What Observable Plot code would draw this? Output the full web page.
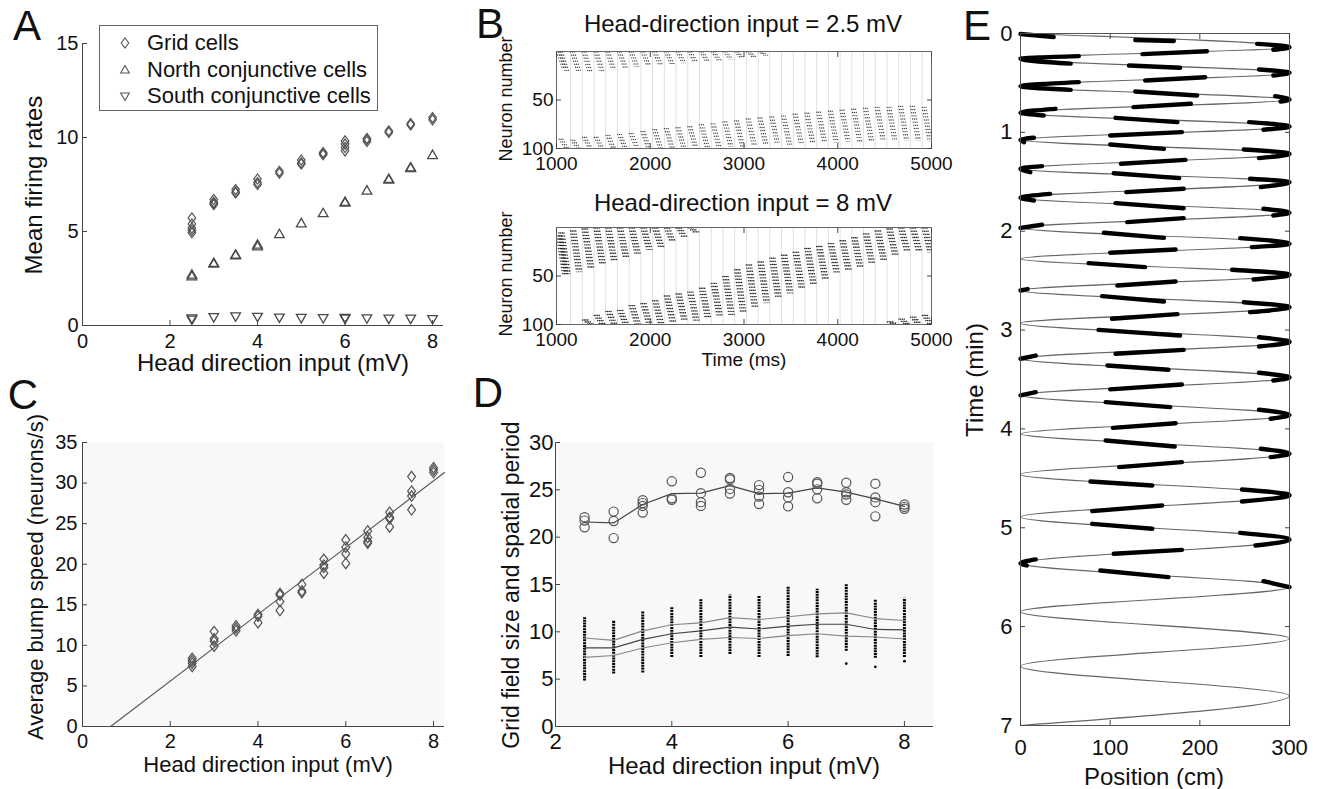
<!DOCTYPE html>
<html><head><meta charset="utf-8">
<script src="https://cdn.jsdelivr.net/npm/d3@7"></script>
<script src="https://cdn.jsdelivr.net/npm/@observablehq/plot@0.6"></script>
<style>
body{margin:0;background:#fff;}
#fig{position:relative;width:1317px;height:789px;overflow:hidden;background:#fff;font-family:"Liberation Sans",Arial,Helvetica,sans-serif;color:#111;}
.lg{position:absolute;left:99px;top:25px;width:279px;height:86px;border:1px solid #666;box-sizing:border-box;background:#fff;}
</style></head>
<body><div id="fig"></div>
<script>
// ---------------- DATA ----------------
const inputX = [2.5, 3, 3.5, 4, 4.5, 5, 5.5, 6, 6.5, 7, 7.5, 8];
// Panel A
const gridCellRates = [[4.93,5.05,5.18,5.40,5.72],[6.43,6.50,6.55,6.70],[7.05,7.10,7.23],[7.50,7.60,7.79],[8.10,8.20],[8.59,8.65,8.80],[9.08,9.15,9.20],[9.29,9.47,9.65,9.82],[9.79,9.90,9.95],[10.27,10.35],[10.67,10.74],[10.94,11.06]];
const northRates = [[2.58,2.67],[3.25,3.29],[3.70,3.73],[4.17,4.26],[4.82],[5.40],[5.94],[6.50,6.54],[7.14],[7.72,7.76],[8.33,8.37],[9.03]];
const southRates = [[0.35,0.42],[0.48],[0.52],[0.50],[0.46],[0.44],[0.43],[0.40,0.44],[0.42],[0.40],[0.40],[0.38]];
const ticksA_x = [0, 2, 4, 6, 8];
const ticksA_y = [0, 5, 10, 15];
const legendA = ["Grid cells", "North conjunctive cells", "South conjunctive cells"];
// Panel B
const timeTicksB = [1000, 2000, 3000, 4000, 5000];
const neuronTicksB = [50, 100];
const thetaLines = [1150,1275,1400,1525,1650,1775,1900,2025,2150,2275,2400,2525,2650,2775,2900,3025,3150,3275,3400,3525,3650,3775,3900,4025,4150,4275,4400,4525,4650,4775,4900];
// [cycle start (ms), top neuron, bottom neuron]
const raster25Upper = [[1000,0,18],[1025,0,20],[1150,0,20],[1275,0,22],[1400,0,20],[1525,0,19],[1650,0,17],[1775,0,16],[1900,0,15],[2025,0,14],[2150,0,13],[2275,0,12],[2400,0,11],[2525,0,10],[2650,0,9],[2775,0,8],[2900,0,7],[3025,0,6],[3150,0,4]];
const raster25Lower = [[1025,90,100],[1150,91,100],[1275,88,100],[1400,88,100],[1525,86,100],[1650,85,100],[1775,84,100],[1900,82,100],[2025,80,100],[2150,79,100],[2275,78,100],[2400,77,99],[2525,75,99],[2650,74,99],[2775,72,98],[2900,71,98],[3025,69,97],[3150,68,97],[3275,67,96],[3400,66,96],[3525,64,95],[3650,63,95],[3775,62,94],[3900,61,94],[4025,60,93],[4150,59,93],[4275,58,92],[4400,57,92],[4525,57,92],[4650,56,92],[4775,56,92],[4900,57,93]];
const raster8Upper = [[1000,8,48],[1025,5,48],[1150,3,46],[1275,1,42],[1400,0,38],[1525,0,35],[1650,0,31],[1775,0,28],[1900,0,23],[2025,0,20],[2150,0,15],[2275,0,10],[2400,0,5]];
const raster8Main = [[1275,95,100],[1400,90,100],[1525,86,100],[1650,85,100],[1775,80,100],[1900,78,100],[2025,75,100],[2150,70,98],[2275,68,97],[2400,66,96],[2525,62,94],[2650,57,92],[2775,50,90],[2900,43,88],[3025,38,83],[3150,35,78],[3275,31,73],[3400,28,68],[3525,25,63],[3650,21,59],[3775,19,53],[3900,16,48],[4025,13,45],[4150,10,42],[4275,6,38],[4400,3,34],[4525,1,30],[4650,0,25],[4775,0,24],[4900,0,26]];
const raster8Wrap = [[4525,97,100],[4650,94,100],[4775,92,100],[4900,90,100]];
// Panel C
const bumpSpeeds = [[7.4,7.8,8.1,8.4],[9.9,10.5,10.8,11.7],[11.8,12.1,12.4],[12.8,13.6,13.8],[14.3,15.4,16.2,16.4],[16.5,16.7,17.5],[18.9,19.6,19.9,20.6],[20.1,21.3,22.1,23.0],[22.6,22.8,23.3,24.1],[24.6,25.6,25.8,26.4],[26.7,28.4,29.0,30.8],[31.3,31.6,31.9]];
const fitLineX = [0.64, 8.25];
const fitLineY = [0, 31.3];
const ticksC_x = [0, 2, 4, 6, 8];
const ticksC_y = [0, 5, 10, 15, 20, 25, 30, 35];
// Panel D
const periodRuns = [[21.05,21.75,22.1],[19.9,21.7,22.7],[22.6,23.3,23.6,23.9],[23.95,24.1,25.9],[23.3,23.7,24.65,26.8],[24.6,25.1,26.1,26.25],[23.5,24.3,25.0,25.5],[23.25,24.2,24.75,26.35],[24.1,25.05,25.65,25.8],[23.95,24.5,24.75,25.75],[22.2,23.7,24.2,25.65],[23.0,23.2,23.45]];
const periodMean = [21.6,21.5,23.45,24.6,24.65,25.45,24.6,24.65,25.2,24.75,24.05,23.25];
const fieldMean = [8.3,8.3,9.2,9.8,10.1,10.5,10.3,10.6,10.8,10.8,10.25,10.2];
const fieldUpper = [9.35,9.1,10.1,10.75,10.95,11.5,11.3,11.6,11.9,12.0,11.4,11.2];
const fieldLower = [7.3,7.5,8.3,8.85,9.2,9.4,9.3,9.6,9.8,9.55,9.45,9.25];
const fieldMax = [11.5,11.2,12.1,12.55,13.4,13.9,13.8,14.7,14.5,15.0,13.4,13.55];
const fieldMin = [4.8,5.55,5.66,7.3,7.3,7.6,7.3,7.4,7.25,7.96,7.2,7.3];
const fieldOutlierX = [7, 7.5, 8];
const fieldOutlierY = [6.65, 6.3, 6.9];
const ticksD_x = [2, 4, 6, 8];
const ticksD_y = [0, 5, 10, 15, 20, 25, 30];
// Panel E
const turnPos = [0,300,0,300,0,300,0,300,0,300,0,300,0,300,0,300,0,300,0,300,0,300,0,300,0,300,0,300,0,300,0,300,0,300,0,300,0,300,0];
const turnTime = [0,0.138,0.256,0.398,0.533,0.668,0.802,0.941,1.076,1.217,1.369,1.504,1.662,1.814,1.966,2.127,2.279,2.441,2.600,2.768,2.93,3.12,3.29,3.48,3.66,3.86,4.05,4.25,4.46,4.67,4.89,5.12,5.36,5.60,5.85,6.12,6.40,6.70,7.0];
const spikeRunsE = [
 [[0,0.005],[37,0.035]],[[128,0.066],[171,0.076]],[[264,0.105],[300,0.138],[282,0.165]],
 [[208,0.179],[136,0.209]],[[65,0.229],[0,0.256],[56,0.305]],[[121,0.324],[178,0.347]],
 [[266,0.364],[300,0.398],[282,0.425]],[[206,0.442],[139,0.475]],[[65,0.492],[0,0.533],[56,0.570]],
 [[128,0.587],[197,0.627]],[[284,0.634],[300,0.668],[290,0.688]],[[190,0.711],[126,0.745]],
 [[39,0.762],[0,0.802],[26,0.829]],[[106,0.853],[175,0.897]],[[255,0.897],[300,0.941],[271,0.974]],
 [[180,0.998],[100,1.032]],[[15,1.055],[0,1.076],[4,1.099]],[[100,1.123],[160,1.167]],
 [[249,1.173],[300,1.217],[266,1.261]],[[184,1.278],[112,1.318]],[[24,1.342],[0,1.369],[11,1.403]],
 [[104,1.413],[177,1.463]],[[256,1.470],[300,1.504],[268,1.554]],[[182,1.571],[118,1.605]],
 [[33,1.622],[0,1.662],[15,1.689]],[[106,1.716],[182,1.767]],[[271,1.773],[300,1.814],[282,1.841]],
 [[182,1.868],[119,1.908]],[[24,1.935],[0,1.966]],[[93,2.016],[160,2.067]],
 [[245,2.07],[300,2.127],[258,2.161]],[[173,2.185],[100,2.218]],[[76,2.323],[139,2.363]],
 [[236,2.39],[300,2.441],[260,2.488]],[[173,2.508],[108,2.549]],[[8,2.585],[0,2.60]],
 [[91,2.657],[160,2.711]],[[249,2.718],[300,2.768],[256,2.819]],[[175,2.839],[102,2.886]],
 [[87,2.998],[178,3.055]],[[266,3.072],[300,3.12],[266,3.166]],[[182,3.20],[106,3.24]],
 [[17,3.258],[0,3.29]],[[97,3.358],[165,3.402]],[[266,3.432],[300,3.48],[282,3.510]],
 [[180,3.55],[100,3.60]],[[17,3.628],[0,3.66]],[[95,3.729],[167,3.780]],
 [[266,3.806],[300,3.86],[279,3.897]],[[173,3.942],[103,3.989]],[[95,4.117],[172,4.178]],
 [[268,4.201],[300,4.25],[279,4.285]],[[180,4.336],[110,4.386]],[[78,4.532],[147,4.572]],
 [[247,4.613],[300,4.67],[247,4.734]],[[158,4.774],[80,4.832]],[[80,4.960],[147,5.010]],
 [[245,5.051],[300,5.12],[262,5.179]],[[180,5.223],[104,5.263]],[[17,5.320],[0,5.36],[7,5.381]],
 [[89,5.432],[165,5.499]],[[271,5.540],[300,5.60]]
];
const ticksE_x = [0, 100, 200, 300];
const ticksE_y = [0, 1, 2, 3, 4, 5, 6, 7];

// ---------------- HELPERS ----------------
const FONT = '"Liberation Sans", Arial, Helvetica, sans-serif';
const AX = "#444";
const fig = document.getElementById("fig");
function put(node, left, top) {
  node.style.position = "absolute"; node.style.left = left + "px"; node.style.top = top + "px";
  fig.appendChild(node);
}
function label(text, cx, cy, size, rot = 0) {
  const d = document.createElement("div");
  d.textContent = text;
  d.style.cssText = `position:absolute;left:${cx}px;top:${cy}px;transform:translate(-50%,-50%) rotate(${rot}deg);font-size:${size}px;white-space:nowrap;line-height:1.15;font-family:${FONT};color:#111;`;
  fig.appendChild(d);
}
const fmt = d => String(d);
function axesMarks({xt, yt, fs, xPad, yPad, box}) {
  const m = [
    Plot.axisX(xt, {tickSize: -5, tickPadding: xPad, fontSize: fs, label: null, tickFormat: fmt, stroke: AX, fill: "#111"}),
    Plot.axisY(yt, {tickSize: -5, tickPadding: yPad, fontSize: fs, label: null, tickFormat: fmt, stroke: AX, fill: "#111"})
  ];
  if (box) {
    m.push(Plot.axisX(xt, {anchor: "top", tickSize: -5, tickFormat: () => "", label: null, stroke: AX}));
    m.push(Plot.axisY(yt, {anchor: "right", tickSize: -5, tickFormat: () => "", label: null, stroke: AX}));
  }
  return m;
}
const groupsToRows = (groups) => groups.flatMap((g, i) => g.map(v => ({x: inputX[i], y: v})));
const tallDiamond = {draw(ctx, size) { const h = Math.sqrt(size) * 0.62, w = h * 0.75; ctx.moveTo(0, -h); ctx.lineTo(w, 0); ctx.lineTo(0, h); ctx.lineTo(-w, 0); ctx.closePath(); }};
const baseStyle = {fontFamily: FONT, background: "transparent", overflow: "visible", color: "#111"};

// ---------------- PANEL A ----------------
const plotA = Plot.plot({
  width: 450, height: 375, marginLeft: 82, marginRight: 7, marginTop: 43, marginBottom: 50,
  style: baseStyle,
  x: {domain: [0, 8.25]}, y: {domain: [0, 15]},
  marks: [
    ...axesMarks({xt: ticksA_x, yt: ticksA_y, fs: 20, xPad: 13, yPad: 9, box: false}),
    Plot.ruleY([0], {stroke: AX}), Plot.ruleX([0], {stroke: AX}),
    Plot.dot(groupsToRows(southRates), {x: "x", y: "y", symbol: "triangle", rotate: 180, r: 3.6, stroke: "#4a4a4a", strokeWidth: 1.3, fill: "none"}),
    Plot.dot(groupsToRows(northRates), {x: "x", y: "y", symbol: "triangle", r: 3.6, stroke: "#4a4a4a", strokeWidth: 1.3, fill: "none"}),
    Plot.dot(groupsToRows(gridCellRates), {x: "x", y: "y", symbol: tallDiamond, r: 4.6, stroke: "#555", strokeWidth: 1.2, fill: "none"})
  ]
});
put(plotA, 0, 0);
label("Mean firing rates", 34, 185, 24, -90);
label("Head direction input (mV)", 273, 363, 24);
// legend
const lg = document.createElement("div"); lg.className = "lg"; fig.appendChild(lg);
const legSyms = [
  `<path d="M0,-5 L3.8,0 L0,5 L-3.8,0 Z"/>`,
  `<path d="M0,-4.5 L4.3,3 L-4.3,3 Z"/>`,
  `<path d="M0,4.5 L4.3,-3 L-4.3,-3 Z"/>`
];
legendA.forEach((t, i) => {
  const cy = [17, 44, 70][i];
  const s = document.createElementNS("http://www.w3.org/2000/svg", "svg");
  s.setAttribute("width", 16); s.setAttribute("height", 16);
  s.innerHTML = `<g transform="translate(8,8)" fill="none" stroke="#555" stroke-width="1.1">${legSyms[i]}</g>`;
  s.style.cssText = `position:absolute;left:17px;top:${cy - 8}px;`;
  lg.appendChild(s);
  const d = document.createElement("div");
  d.textContent = t;
  d.style.cssText = `position:absolute;left:47px;top:${cy}px;transform:translateY(-50%);font-size:22px;line-height:1.15;white-space:nowrap;`;
  lg.appendChild(d);
});

// ---------------- PANEL B ----------------
function rasterLinks(rows, offsets, color, width) {
  return offsets.map(off => Plot.link(rows, {
    x1: d => d[0] + off, y1: d => d[1], x2: d => d[0] + off + 65, y2: d => d[2],
    stroke: color, strokeWidth: width, strokeDasharray: "1.2 2", clip: true
  }));
}
function panelB(pieces, offsets, color, width, mt, mb) {
  return Plot.plot({
    width: 460, height: 185, marginLeft: 76, marginRight: 9, marginTop: mt, marginBottom: mb,
    style: baseStyle,
    x: {domain: [1000, 5000]}, y: {domain: [100, 0]},
    marks: [
      Plot.ruleX(thetaLines, {stroke: "#e0e0e0", strokeWidth: 1}),
      ...pieces.flatMap(p => rasterLinks(p, offsets, color, width)),
      Plot.frame({stroke: "#666"}),
      ...axesMarks({xt: timeTicksB, yt: neuronTicksB, fs: 19, xPad: 13, yPad: 8, box: true})
    ]
  });
}
put(panelB([raster25Upper, raster25Lower], [0, 20, 40], "#444", 1.2, 51, 37), 480, 0);
put(panelB([raster8Upper, raster8Main, raster8Wrap], [0, 18, 36, 54], "#222", 1.4, 37, 51), 480, 190);
label("Head-direction input = 2.5 mV", 743, 24, 24);
label("Head-direction input = 8 mV", 743, 203, 24);
label("Neuron number", 506, 99, 18, -90);
label("Neuron number", 506, 274, 18, -90);
label("Time (ms)", 744, 360, 19);

// ---------------- PANEL C ----------------
const plotC = Plot.plot({
  width: 450, height: 380, marginLeft: 82, marginRight: 6, marginTop: 42, marginBottom: 54,
  style: baseStyle,
  x: {domain: [0, 8.25]}, y: {domain: [0, 35]},
  marks: [
    Plot.frame({fill: "#f8f8f8", stroke: null}),
    ...axesMarks({xt: ticksC_x, yt: ticksC_y, fs: 20, xPad: 12, yPad: 10, box: false}),
    Plot.ruleY([0], {stroke: AX}), Plot.ruleX([0], {stroke: AX}),
    Plot.line(fitLineX.map((x, i) => ({x, y: fitLineY[i]})), {x: "x", y: "y", stroke: "#555", strokeWidth: 1.1}),
    Plot.dot(groupsToRows(bumpSpeeds), {x: "x", y: "y", symbol: tallDiamond, r: 4.8, stroke: "#555", strokeWidth: 1.2, fill: "none"})
  ]
});
put(plotC, 0, 400);
label("Average bump speed (neurons/s)", 36, 577, 22, -90);
label("Head direction input (mV)", 268, 765, 22);

// ---------------- PANEL D ----------------
const rowsD = inputX.map((x, i) => ({x, mean: fieldMean[i], up: fieldUpper[i], lo: fieldLower[i], mx: fieldMax[i], mn: fieldMin[i], pm: periodMean[i]}));
const plotD = Plot.plot({
  width: 500, height: 380, marginLeft: 115, marginRight: 7, marginTop: 42, marginBottom: 54,
  style: baseStyle,
  x: {domain: [2, 8.5]}, y: {domain: [0, 30]},
  marks: [
    Plot.frame({fill: "#f8f8f8", stroke: null}),
    ...axesMarks({xt: ticksD_x, yt: ticksD_y, fs: 22, xPad: 12, yPad: 7, box: false}),
    Plot.ruleY([0], {stroke: AX}), Plot.ruleX([2], {stroke: AX}),
    Plot.ruleX(rowsD, {x: "x", y1: "mn", y2: "mx", stroke: "#000", strokeWidth: 3, strokeDasharray: "2 0.8"}),
    Plot.dot(fieldOutlierX.map((x, i) => ({x, y: fieldOutlierY[i]})), {x: "x", y: "y", r: 1.4, fill: "#000"}),
    Plot.line(rowsD, {x: "x", y: "up", stroke: "#888", strokeWidth: 1.1}),
    Plot.line(rowsD, {x: "x", y: "lo", stroke: "#888", strokeWidth: 1.1}),
    Plot.line(rowsD, {x: "x", y: "mean", stroke: "#444", strokeWidth: 1.2}),
    Plot.line(rowsD, {x: "x", y: "pm", stroke: "#444", strokeWidth: 1.2}),
    Plot.dot(groupsToRows(periodRuns), {x: "x", y: "y", r: 4.6, stroke: "#555", strokeWidth: 1.2, fill: "none"})
  ]
});
put(plotD, 440, 400);
label("Grid field size and spatial period", 511, 585, 23, -90);
label("Head direction input (mV)", 744, 766, 24);

// ---------------- PANEL E ----------------
const trajRows = turnPos.map((p, i) => ({p, t: turnTime[i]}));
const spikeRows = spikeRunsE.flatMap((run, i) => run.map(([p, t]) => ({id: i, p, t})));
const plotE = Plot.plot({
  width: 377, height: 789, marginLeft: 80, marginRight: 28, marginTop: 33, marginBottom: 64,
  style: baseStyle,
  x: {domain: [0, 300]}, y: {domain: [7, 0]},
  marks: [
    Plot.line(trajRows, {x: "p", y: "t", curve: "monotone-y", stroke: "#666", strokeWidth: 1.1}),
    Plot.line(spikeRows, {x: "p", y: "t", z: "id", curve: "monotone-y", stroke: "#000", strokeWidth: 4.4, strokeLinecap: "round", strokeLinejoin: "round"}),
    Plot.frame({stroke: "#555"}),
    ...axesMarks({xt: ticksE_x, yt: ticksE_y, fs: 22, xPad: 19, yPad: 13, box: true})
  ]
});
put(plotE, 940, 0);
label("Time (min)", 975, 380, 24, -90);
label("Position (cm)", 1154, 777, 24);

// ---------------- PANEL LETTERS ----------------
label("A", 27, 26, 42); label("B", 490, 24, 42); label("C", 23, 395, 42); label("D", 488, 393, 42); label("E", 977, 26, 42);
</script>
</body></html>
